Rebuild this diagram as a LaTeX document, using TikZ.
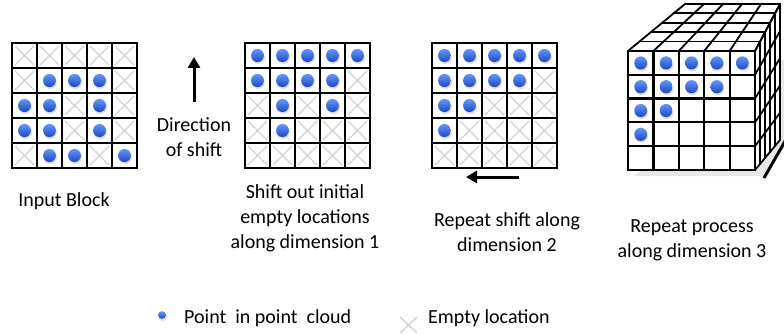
\documentclass[tikz,border=0pt]{standalone}
\usepackage{fontspec}
\setmainfont{Carlito}
\usetikzlibrary{arrows.meta,calc}
\definecolor{dotlight}{RGB}{100,150,248}
\definecolor{dotdark}{RGB}{28,72,195}
\definecolor{crossgray}{RGB}{210,210,210}
\tikzset{
  gridline/.style={line width=2.2pt, black, line cap=rect},
  cubeline/.style={line width=1.8pt, black, line cap=round, line join=round},
  crossline/.style={line width=1.4pt, crossgray},
  caption/.style={font=\fontsize{20}{25}\selectfont, align=center, inner sep=0pt},
  bigarrow/.style={line width=3pt, -{Triangle[length=11pt,width=12pt]}},
}
% one point of the cloud, centred at (#1,#2)
\newcommand\cloudpt[2]{%
  \fill[black!30, opacity=0.45] ($(#1,#2)+(0.8,1.8)$) ellipse (6.6pt and 6.6pt);
  \shade[top color=dotlight, bottom color=dotdark] (#1,#2) ellipse (6.4pt and 6.6pt);
}
% empty location: a light cross over the cell with lower left (#1,#2)
\newcommand\emptycell[2]{%
  \draw[crossline] ($(#1,#2)+(3,3)$) -- ($(#1,#2)+(22,22)$)
                   ($(#1,#2)+(22,3)$) -- ($(#1,#2)+(3,22)$);
}
\newcommand\blockgrid{%
  \foreach \i in {0,...,5} {
    \draw[gridline] (\i*25,0) -- (\i*25,125);
    \draw[gridline] (0,\i*25) -- (125,\i*25);
  }
}
\begin{document}
\begin{tikzpicture}[x=1pt, y=-1pt]
\useasboundingbox (0,0) rectangle (784,334);
\clip (0,0) rectangle (784,334);

% ---- input block ----
\begin{scope}[shift={(12,43)}]
  \foreach \c/\r in {0/0,1/0,2/0,3/0,4/0, 0/1,4/1, 2/2,4/2, 2/3,4/3, 0/4,3/4}
    \emptycell{\c*25}{\r*25};
  \foreach \c/\r in {1/1,2/1,3/1, 0/2,1/2,3/2, 0/3,1/3,3/3, 1/4,2/4,4/4}
    \cloudpt{\c*25+12.5}{\r*25+12.5};
  \blockgrid
\end{scope}

% ---- after shifting along dimension 1 ----
\begin{scope}[shift={(245,43)}]
  \foreach \c/\r in {4/1, 0/2,2/2,4/2, 0/3,2/3,3/3,4/3, 0/4,1/4,2/4,3/4,4/4}
    \emptycell{\c*25}{\r*25};
  \foreach \c/\r in {0/0,1/0,2/0,3/0,4/0, 0/1,1/1,2/1,3/1, 1/2,3/2, 1/3}
    \cloudpt{\c*25+12.5}{\r*25+12.5};
  \blockgrid
\end{scope}

% ---- after shifting along dimension 2 ----
\begin{scope}[shift={(432,43)}]
  \foreach \c/\r in {4/1, 2/2,3/2,4/2, 1/3,2/3,3/3,4/3, 0/4,1/4,2/4,3/4,4/4}
    \emptycell{\c*25}{\r*25};
  \foreach \c/\r in {0/0,1/0,2/0,3/0,4/0, 0/1,1/1,2/1,3/1, 0/2,1/2, 0/3}
    \cloudpt{\c*25+12.5}{\r*25+12.5};
  \blockgrid
\end{scope}

% ---- cube: repeat along dimension 3 ----
% soft shadow and faces
\fill[black!18, opacity=0.5] (634,176) -- (762,176) -- (786,146) -- (786,60) -- (762,60) -- cycle;
\fill[white] (628,51) -- (755,51) -- (780,4) -- (685,4) -- cycle;
\fill[white] (755,51) -- (780,4) -- (780,140) -- (755,170) -- cycle;
\fill[white] (628,51) rectangle (755,170);
% top face
\foreach \k in {0,...,5}
  \draw[cubeline] (628+25.4*\k,51) -- (685+19*\k,4);
\foreach \j in {0,...,5}
  \draw[cubeline] (628+11.4*\j,51-9.4*\j) -- (755+5*\j,51-9.4*\j);
% right face
\foreach \i in {0,...,5}
  \draw[cubeline] (755,51+23.8*\i) -- (780,4+27.2*\i);
\foreach \j in {0,...,5}
  \draw[cubeline] (755+5*\j,51-9.4*\j) -- (755+5*\j,170-6*\j);
% front face
\foreach \c/\r in {0/0,1/0,2/0,3/0,4/0, 0/1,1/1,2/1,3/1, 0/2,1/2, 0/3}
  \cloudpt{628+25.4*\c+12.7}{51+23.8*\r+11.9};
\foreach \i in {0,...,5} {
  \draw[gridline] (628+25.4*\i,51) -- (628+25.4*\i,170);
  \draw[gridline] (628,51+23.8*\i) -- (755,51+23.8*\i);
}

% ---- arrows ----
\coordinate (upTail) at (194,102);
\coordinate (upHead) at (194,57);
\draw[bigarrow] (upTail) -- (upHead);
\coordinate (leftTail) at (519,177);
\coordinate (leftHead) at (466,177);
\draw[bigarrow] (leftTail) -- (leftHead);
\coordinate (depthTail) at (764,178);
\coordinate (depthHead) at (792,129);
\draw[line width=3pt] (depthTail) -- (depthHead);

% ---- captions ----
\node[caption] (dirtext) at (194,137) {Direction\\of shift};
\node[caption] (capA) at (64,201) {Input Block};
\node[caption] (capB) at (305,218) {Shift out initial\\empty locations\\along dimension 1};
\node[caption] (capC) at (507,232) {Repeat shift along\\dimension 2};
\node[caption] (capD) at (692,240) {Repeat process\\along dimension 3};

% ---- legend ----
\fill[black!30, opacity=0.45] (163,317) ellipse (4.2pt and 4pt);
\shade[top color=dotlight, bottom color=dotdark] (162,315) ellipse (4pt and 3.8pt);
\node[caption, anchor=west] (legPt) at (184,318) {Point\ \ in point\ \ cloud};
\draw[crossline] (400,317) -- (417,333) (417,317) -- (400,333);
\node[caption, anchor=west] (legEmpty) at (428,318) {Empty location};
\end{tikzpicture}
\end{document}
